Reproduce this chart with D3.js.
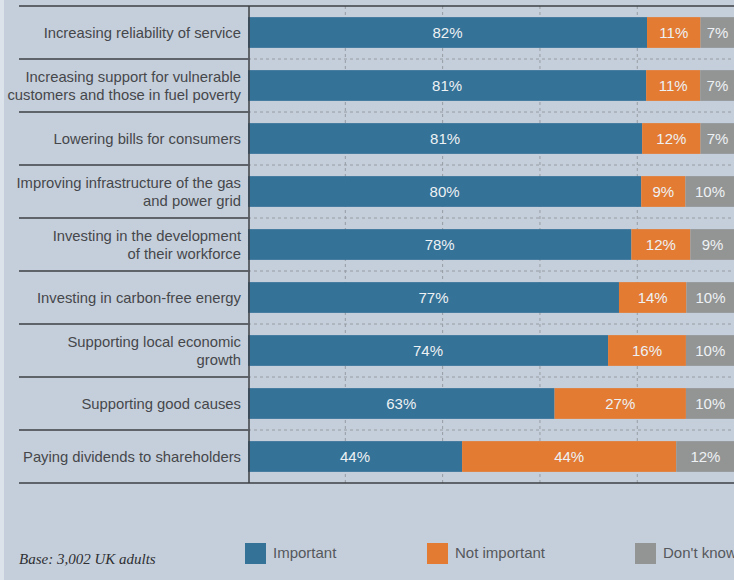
<!DOCTYPE html>
<html>
<head>
<meta charset="utf-8">
<script src="https://cdn.jsdelivr.net/npm/d3@7"></script>
<style>
  html, body { margin: 0; padding: 0; background: #c5cfdb; }
  svg { display: block; }
</style>
</head>
<body>
<svg id="chart" width="734" height="580"></svg>
<script>
// Survey statements (one array of lines per label)
const categories = [
  ["Increasing reliability of service"],
  ["Increasing support for vulnerable", "customers and those in fuel poverty"],
  ["Lowering bills for consumers"],
  ["Improving infrastructure of the gas", "and power grid"],
  ["Investing in the development", "of their workforce"],
  ["Investing in carbon-free energy"],
  ["Supporting local economic", "growth"],
  ["Supporting good causes"],
  ["Paying dividends to shareholders"]
];
const important    = [82, 81, 81, 80, 78, 77, 74, 63, 44];
const notImportant = [11, 11, 12, 9, 12, 14, 16, 27, 44];
const dontKnow     = [7, 7, 7, 10, 9, 10, 10, 10, 12];
const seriesNames  = ["Important", "Not important", "Don't know"];
const seriesColors = ["#347297", "#e37b33", "#939595"];
const gridTicks    = [20, 40, 60, 80];
const baseNote     = "Base: 3,002 UK adults";

const svg = d3.select("#chart");
const W = 734;
const plotLeft = 248, plotRight = 734.6, plotTop = 6, plotBottom = 483;

// thin pale strip along the left edge
svg.append("rect").attr("x", 0).attr("y", 0).attr("width", 4).attr("height", 580)
  .attr("fill", "#dce3ea");

const x = d3.scaleLinear().domain([0, 100]).range([plotLeft, plotRight]);
const xShare = d3.scaleLinear().domain([0, 1]).range([plotLeft, plotRight]);
const rows = d3.range(categories.length);
const y = d3.scaleBand().domain(rows).range([plotTop, plotBottom])
  .paddingInner(0.42).paddingOuter(0.21);
const step = y.step();

// dashed vertical gridlines
svg.append("g").selectAll("line").data(gridTicks).join("line")
  .attr("x1", d => x(d)).attr("x2", d => x(d))
  .attr("y1", plotTop).attr("y2", plotBottom)
  .attr("stroke", "#979ca3").attr("stroke-width", 1)
  .attr("stroke-dasharray", "3,3");

// row separators: dashed inside the plot, solid in the label column
const seps = d3.range(1, categories.length);
svg.append("g").selectAll("line").data(seps).join("line")
  .attr("x1", plotLeft).attr("x2", W)
  .attr("y1", d => plotTop + d * step).attr("y2", d => plotTop + d * step)
  .attr("stroke", "#979ca3").attr("stroke-width", 1)
  .attr("stroke-dasharray", "3,3");
svg.append("g").selectAll("line").data(seps).join("line")
  .attr("x1", 19).attr("x2", plotLeft)
  .attr("y1", d => plotTop + d * step).attr("y2", d => plotTop + d * step)
  .attr("stroke", "#3c3f44").attr("stroke-width", 1.5);

// stacked bars, each row expanded to the full width
const table = rows.map(i => ({ i, a: important[i], b: notImportant[i], c: dontKnow[i] }));
const keys = ["a", "b", "c"];
const stacked = d3.stack().keys(keys).offset(d3.stackOffsetExpand)(table);
const segs = [];
stacked.forEach((layer, s) => {
  layer.forEach(p => {
    segs.push({ i: p.data.i, s, x0: p[0], x1: p[1], v: p.data[keys[s]] });
  });
});

const bars = svg.append("g");
bars.selectAll("rect").data(segs).join("rect")
  .attr("x", d => xShare(d.x0))
  .attr("y", d => y(d.i))
  .attr("width", d => xShare(d.x1) - xShare(d.x0))
  .attr("height", y.bandwidth())
  .attr("fill", d => seriesColors[d.s]);

bars.selectAll("text").data(segs).join("text")
  .attr("x", d => (xShare(d.x0) + xShare(d.x1)) / 2)
  .attr("y", d => y(d.i) + y.bandwidth() / 2)
  .attr("dy", "0.36em")
  .attr("text-anchor", "middle")
  .attr("font-family", "'Liberation Sans', Arial, sans-serif")
  .attr("font-size", 15)
  .attr("fill", "#eef1f4")
  .text(d => d.v + "%");

// frame: top and bottom rules and the axis line
svg.append("line").attr("x1", 19).attr("x2", W).attr("y1", plotTop).attr("y2", plotTop)
  .attr("stroke", "#3c3f44").attr("stroke-width", 1.5);
svg.append("line").attr("x1", 19).attr("x2", W).attr("y1", plotBottom).attr("y2", plotBottom)
  .attr("stroke", "#3c3f44").attr("stroke-width", 1.5);
svg.append("line").attr("x1", 249).attr("x2", 249).attr("y1", plotTop).attr("y2", plotBottom)
  .attr("stroke", "#3c3f44").attr("stroke-width", 1.5);

// category labels
const labels = svg.append("g")
  .attr("font-family", "'Liberation Sans', Arial, sans-serif")
  .attr("font-size", 14.8)
  .attr("fill", "#45474b")
  .attr("text-anchor", "end");
rows.forEach(i => {
  const lines = categories[i];
  const cy = plotTop + (i + 0.5) * step;
  const lh = 17.4;
  lines.forEach((ln, k) => {
    labels.append("text")
      .attr("x", 241)
      .attr("y", cy + (k - (lines.length - 1) / 2) * lh)
      .attr("dy", "0.36em")
      .text(ln);
  });
});

// legend
const legendX = [245, 427, 635];
const legend = svg.append("g");
seriesNames.forEach((n, s) => {
  legend.append("rect").attr("x", legendX[s]).attr("y", 543)
    .attr("width", 21).attr("height", 21).attr("fill", seriesColors[s]);
  legend.append("text").attr("x", legendX[s] + 28).attr("y", 558)
    .attr("font-family", "'Liberation Sans', Arial, sans-serif")
    .attr("font-size", 15).attr("fill", "#55585d")
    .text(n);
});

// base note
svg.append("text").attr("x", 19).attr("y", 564)
  .attr("font-family", "'Liberation Serif', 'Times New Roman', serif")
  .attr("font-style", "italic").attr("font-size", 15).attr("fill", "#2e3034")
  .text(baseNote);
</script>
</body>
</html>
